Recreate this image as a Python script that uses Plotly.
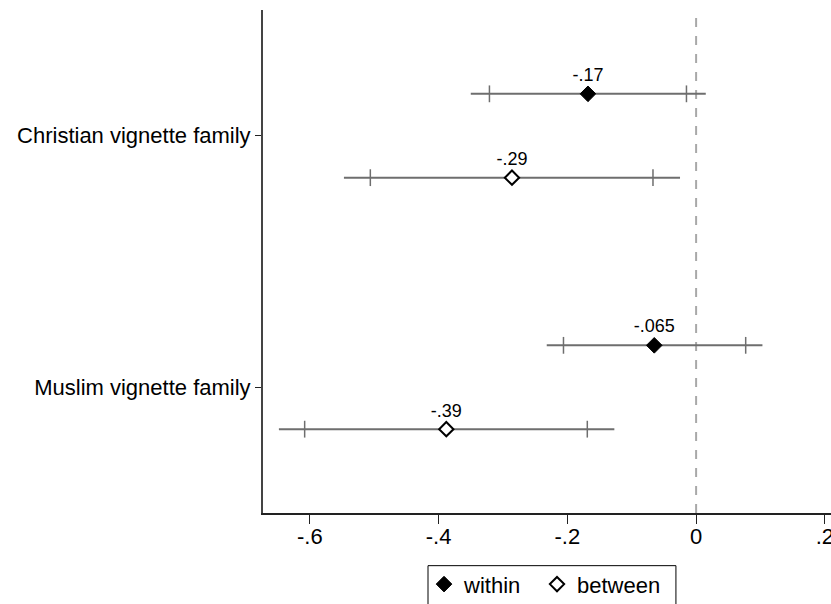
import plotly.graph_objects as go

# Coefficient estimates with 95% (line) and 90% (tick) confidence intervals
groups = ["Christian vignette family", "Muslim vignette family"]

within_est = [-0.168, -0.065]
within_lo95 = [-0.350, -0.232]
within_hi95 = [0.015, 0.103]
within_lo90 = [-0.321, -0.206]
within_hi90 = [-0.015, 0.077]

between_est = [-0.286, -0.388]
between_lo95 = [-0.547, -0.648]
between_hi95 = [-0.025, -0.127]
between_lo90 = [-0.506, -0.608]
between_hi90 = [-0.067, -0.169]

x_ticks = [-0.6, -0.4, -0.2, 0, 0.2]
x_tick_text = ["-.6", "-.4", "-.2", "0", ".2"]

FONT = "Arial, Liberation Sans, sans-serif"
CI_COLOR = "#6e6e6e"


def fmt(v):
    s = f"{v:.2g}"
    return s.replace("0.", ".", 1)


def ci_traces(est, lo95, hi95, lo90, hi90, offset):
    ys = [i + 1 + offset for i in range(len(est))]
    lx, ly = [], []
    for lo, hi, y in zip(lo95, hi95, ys):
        lx += [lo, hi, None]
        ly += [y, y, None]
    line = go.Scatter(x=lx, y=ly, mode="lines", showlegend=False, hoverinfo="skip",
                      line=dict(color=CI_COLOR, width=2))
    tx, ty = [], []
    for lo, hi, y in zip(lo90, hi90, ys):
        tx += [lo, hi]
        ty += [y, y]
    ticks = go.Scatter(x=tx, y=ty, mode="markers", showlegend=False, hoverinfo="skip",
                       marker=dict(symbol="line-ns", size=12,
                                   line=dict(color=CI_COLOR, width=1.5)))
    return [line, ticks], ys


fig = go.Figure()

w_traces, w_y = ci_traces(within_est, within_lo95, within_hi95, within_lo90, within_hi90, -1 / 6)
b_traces, b_y = ci_traces(between_est, between_lo95, between_hi95, between_lo90, between_hi90, 1 / 6)
for t in w_traces + b_traces:
    fig.add_trace(t)

fig.add_trace(go.Scatter(
    x=within_est, y=w_y, mode="markers+text", name="within", legend="legend",
    text=[fmt(v) for v in within_est], textposition="top center",
    textfont=dict(family=FONT, size=18, color="black"),
    marker=dict(symbol="diamond", size=12, color="black", line=dict(color="black", width=1)),
))
fig.add_trace(go.Scatter(
    x=between_est, y=b_y, mode="markers+text", name="between", legend="legend2",
    text=[fmt(v) for v in between_est], textposition="top center",
    textfont=dict(family=FONT, size=18, color="black"),
    marker=dict(symbol="diamond", size=11, color="white", line=dict(color="black", width=2)),
))

# reference line at zero
fig.add_shape(type="line", xref="x", yref="paper", x0=0, x1=0, y0=0, y1=1,
              line=dict(color="#a8a8a8", width=2, dash="9px,9px"), layer="below")

# frame around the legend entries
fig.add_shape(type="rect", xref="paper", yref="paper",
              x0=0.2905, x1=0.727, y0=-0.1047, y1=-0.35,
              line=dict(color="black", width=1), fillcolor="rgba(0,0,0,0)")

legend_style = dict(
    orientation="h", y=-0.10, xanchor="left", yanchor="top",
    borderwidth=0, bgcolor="rgba(0,0,0,0)",
    font=dict(family=FONT, size=22, color="black"),
    itemsizing="trace",
)

fig.update_layout(
    width=831, height=604,
    margin=dict(l=263, r=0, t=10, b=91, autoexpand=False),
    paper_bgcolor="white", plot_bgcolor="white",
    font=dict(family=FONT, size=22, color="black"),
    showlegend=True,
    legend=dict(x=0.2835, **legend_style),
    legend2=dict(x=0.4824, **legend_style),
)

fig.update_xaxes(
    range=[-0.6727, 0.2095], tickvals=x_ticks, ticktext=x_tick_text,
    showgrid=False, zeroline=False, showline=True, linecolor="#222222", linewidth=1.5,
    ticks="outside", ticklen=9, tickwidth=1, tickcolor="#222222",
    ticklabeloverflow="allow", ticklabelstandoff=-6, automargin=False,
    tickfont=dict(family=FONT, size=22, color="black"),
)
fig.update_yaxes(
    range=[2.5, 0.5], tickvals=[1, 2], ticktext=groups,
    showgrid=False, zeroline=False, showline=True, linecolor="#444444", linewidth=2,
    ticks="outside", ticklen=6, tickwidth=1, tickcolor="#222222", automargin=False,
    tickfont=dict(family=FONT, size=22, color="black"),
)

fig.write_html("out.html")
